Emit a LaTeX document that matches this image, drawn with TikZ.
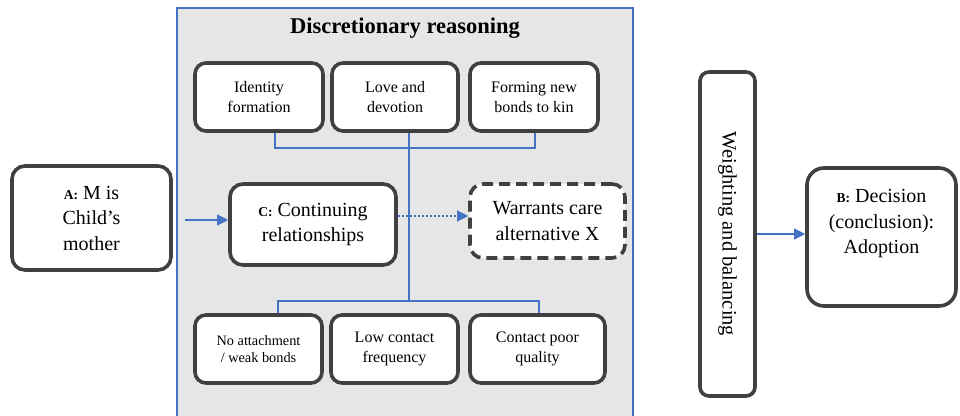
\documentclass[tikz,border=0pt]{standalone}
\usepackage{fontspec}
\setmainfont{Liberation Serif}
\usetikzlibrary{arrows.meta}

\definecolor{panelgray}{HTML}{E7E6E6}
\definecolor{linkblue}{HTML}{4472C4}
\definecolor{boxline}{HTML}{404040}

\newcommand{\tagsize}{\fontsize{13.5}{16}\selectfont\bfseries}

\tikzset{
  card/.style={draw=boxline, line width=3.6pt, fill=white, rounded corners=13pt,
    inner sep=0pt, align=center, font=\fontsize{20}{25.5}\selectfont},
  smallcard/.style={card, rounded corners=11pt, font=\fontsize{16}{20}\selectfont},
  dashcard/.style={card, dash pattern=on 11pt off 6pt},
  link/.style={draw=linkblue, line width=1.1pt},
  arrowlink/.style={link, -{Triangle[length=11pt,width=11pt]}},
}

\begin{document}
\begin{tikzpicture}[x=1pt,y=-1pt]
\useasboundingbox (0,0) rectangle (960,415);

% panel holding the discretionary reasoning
\fill[panelgray] (177,8) rectangle (633,430);
\draw[draw=linkblue, line width=1.3pt] (177,430) -- (177,8) -- (633,8) -- (633,430);
\node (title) at (405,28) {\fontsize{22.5}{25}\selectfont\bfseries Discretionary reasoning};

% factors for the relationship
\node[smallcard, minimum width=128pt, minimum height=68pt] (ident) at (259,97) {Identity\\formation};
\node[smallcard, minimum width=126pt, minimum height=68pt] (love) at (395,97) {Love and\\devotion};
\node[smallcard, minimum width=128pt, minimum height=68pt] (bonds) at (534,97) {Forming new\\bonds to kin};

% factors against the relationship
\node[smallcard, minimum width=127pt, minimum height=68pt, font=\fontsize{14.3}{17}\selectfont] (noatt) at (258.5,349) {No attachment\\/ weak bonds};
\node[smallcard, minimum width=127pt, minimum height=68pt] (lowfreq) at (394.5,349) {Low contact\\frequency};
\node[smallcard, minimum width=135pt, minimum height=68pt] (poorq) at (537.5,349) {Contact poor\\quality};

% main claims
\node[card, minimum width=159pt, minimum height=104pt] (A) at (91.5,218) {{\tagsize A:} M is\\Child’s\\mother};
\node[card, minimum width=166pt, minimum height=81pt] (C) at (313,224.5) {{\tagsize C:} Continuing\\relationships};
\node[dashcard, minimum width=155pt, minimum height=74pt] (W) at (547.5,221) {Warrants care\\alternative X};

% weighing step and decision
\node[card, rounded corners=9pt, minimum width=55pt, minimum height=324pt] (weigh) at (727.5,234) {};
\node[rotate=-90, font=\fontsize{20.5}{24}\selectfont] (weightext) at (weigh.center) {Weighting and balancing};
\node[card, rounded corners=17pt, minimum width=149pt, minimum height=138pt] (B) at (881.5,237) {};
\node[align=center, font=\fontsize{20}{25.5}\selectfont] (btext) at (881.5,224) {{\tagsize B:} Decision\\(conclusion):\\Adoption};

% bracket connectors
\coordinate (tophub) at (409,148);
\coordinate (bothub) at (409,301);
\draw[link] (ident.south -| 275,0) -- (275,148) -- (535,148) -- (bonds.south -| 535,0);
\draw[link] (love.south -| tophub) -- (bothub);
\draw[link] (noatt.north -| 278,0) -- (278,301) -- (539,301) -- (poorq.north -| 539,0);

% arrows
\draw[arrowlink] ([xshift=12pt]A.east |- 0,220) -- (C.west |- 0,220);
\draw[arrowlink, dash pattern=on 2.5pt off 1.5pt] (C.east |- 0,216) -- (W.west |- 0,216);
\draw[arrowlink] (weigh.east |- 0,234) -- (B.west |- 0,234);
\end{tikzpicture}
\end{document}
